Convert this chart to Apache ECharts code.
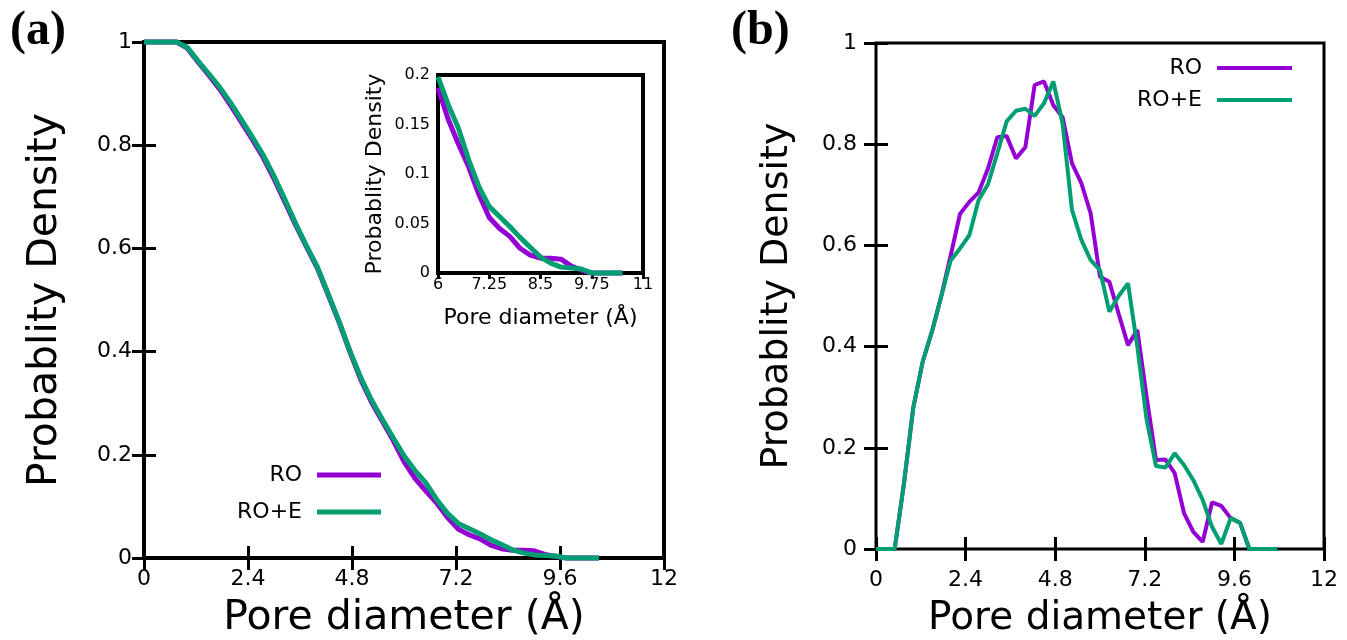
<!DOCTYPE html>
<html>
<head>
<meta charset="utf-8">
<script src="https://cdn.jsdelivr.net/npm/echarts@6/dist/echarts.min.js"></script>
<style>
html,body{margin:0;padding:0;background:#fff;}
#chart{width:1347px;height:640px;}
</style>
</head>
<body>
<div id="chart"></div>
<script>
// ---- Panel (a): cumulative-like probability density ----
var xA = [0,0.25,0.5,0.75,1,1.25,1.5,1.75,2,2.25,2.5,2.75,3,3.25,3.5,3.75,4,4.25,4.5,4.75,5,5.25,5.5,5.75,6,6.25,6.5,6.75,7,7.25,7.5,7.75,8,8.25,8.5,8.75,9,9.25,9.5,9.75,10,10.25,10.5];
var roA = [1,1,1,1,0.988,0.961,0.935,0.908,0.877,0.844,0.811,0.776,0.735,0.69,0.645,0.603,0.562,0.51,0.457,0.4,0.346,0.302,0.265,0.228,0.187,0.155,0.13,0.107,0.079,0.056,0.045,0.037,0.025,0.018,0.015,0.015,0.014,0.007,0.003,0,0,0,0];
var roeA = [1,1,1,1,0.99,0.963,0.938,0.912,0.882,0.849,0.816,0.781,0.74,0.695,0.648,0.605,0.564,0.512,0.459,0.402,0.35,0.306,0.269,0.233,0.198,0.17,0.146,0.114,0.087,0.067,0.057,0.047,0.036,0.026,0.016,0.01,0.006,0.005,0.004,0,0,0,0];

// ---- Panel (b): probability density ----
var xB = [0,0.25,0.5,0.75,1,1.25,1.5,1.75,2,2.25,2.5,2.75,3,3.25,3.5,3.75,4,4.25,4.5,4.75,5,5.25,5.5,5.75,6,6.25,6.5,6.75,7,7.25,7.5,7.75,8,8.25,8.5,8.75,9,9.25,9.5,9.75,10,10.25,10.5,10.75];
var roB = [0,0,0,0.13,0.28,0.37,0.43,0.5,0.58,0.662,0.686,0.705,0.752,0.814,0.816,0.772,0.794,0.917,0.924,0.877,0.853,0.762,0.723,0.663,0.538,0.528,0.465,0.403,0.433,0.3,0.176,0.177,0.15,0.071,0.034,0.014,0.092,0.085,0.061,0.052,0,0,0,0];
var roeB = [0,0,0,0.13,0.28,0.37,0.43,0.5,0.57,0.594,0.62,0.69,0.721,0.782,0.845,0.866,0.87,0.856,0.881,0.924,0.84,0.67,0.611,0.571,0.551,0.469,0.5,0.525,0.4,0.255,0.164,0.161,0.189,0.166,0.136,0.097,0.044,0.01,0.061,0.052,0,0,0,0];

var seriesNames = ['RO','RO+E'];
var colors = ['#9400D3','#009E73'];

function pairs(xs, ys, xmin){
  var out = [];
  for (var i=0;i<xs.length;i++){ if (xmin===undefined || xs[i] >= xmin) out.push([xs[i], ys[i]]); }
  return out;
}

var FONT = 'DejaVu Sans';
function xAx(grid, min, max, interval, opts){
  var o = {
    type:'value', gridIndex:grid, min:min, max:max, interval:interval,
    axisLine:{show:false}, splitLine:{show:false},
    axisTick:{show:true, inside:true, length:opts.tick, lineStyle:{color:'#000', width:opts.tw}},
    axisLabel:{show:!opts.top, color:'#000', fontFamily:FONT, fontSize:opts.fs, margin:opts.margin, showMinLabel:true, showMaxLabel:true},
    position: opts.top ? 'top' : 'bottom'
  };
  if (!opts.top && opts.name){
    o.name = opts.name; o.nameLocation='middle'; o.nameGap=opts.nameGap;
    o.nameTextStyle={color:'#000', fontFamily:FONT, fontSize:opts.nfs};
  }
  return o;
}
function yAx(grid, min, max, interval, opts){
  var o = {
    type:'value', gridIndex:grid, min:min, max:max, interval:interval,
    axisLine:{show:false}, splitLine:{show:false},
    axisTick:{show:true, inside:true, length:opts.tick, lineStyle:{color:'#000', width:opts.tw}},
    axisLabel:{show:!opts.right, color:'#000', fontFamily:FONT, fontSize:opts.fs, margin:opts.margin, showMinLabel:true, showMaxLabel:true},
    position: opts.right ? 'right' : 'left'
  };
  if (!opts.right && opts.name){
    o.name = opts.name; o.nameLocation='middle'; o.nameGap=opts.nameGap; o.nameRotate=90;
    o.nameTextStyle={color:'#000', fontFamily:FONT, fontSize:opts.nfs};
  }
  return o;
}

var chart = echarts.init(document.getElementById('chart'), null, {renderer:'canvas'});
var option = {
  backgroundColor:'#fff',
  animation:false,
  title:[
    {text:'(a)', left:5, top:3, textStyle:{fontFamily:'Liberation Serif', fontWeight:'bold', fontSize:48, color:'#000'}},
    {text:'(b)', left:726, top:3, textStyle:{fontFamily:'Liberation Serif', fontWeight:'bold', fontSize:48, color:'#000'}}
  ],
  grid:[
    {left:144, top:42, width:520, height:516, show:true, borderColor:'#000', borderWidth:4, backgroundColor:'transparent', containLabel:false, outerBoundsMode:'none'},
    {left:438, top:75, width:205, height:198, show:true, borderColor:'#000', borderWidth:4, backgroundColor:'#fff', containLabel:false, outerBoundsMode:'none', z:3},
    {left:876, top:43, width:448, height:506, show:true, borderColor:'#000', borderWidth:3, backgroundColor:'transparent', containLabel:false, outerBoundsMode:'none'}
  ],
  xAxis:[
    xAx(0,0,12,2.4,{tick:12,tw:3,fs:22,margin:10,name:'Pore diameter (Å)',nameGap:40,nfs:41}),
    xAx(0,0,12,2.4,{tick:12,tw:3,fs:22,top:true}),
    xAx(1,6,11,1.25,{tick:6,tw:3,fs:16,margin:4,name:'Pore diameter (Å)',nameGap:34,nfs:22}),
    xAx(1,6,11,1.25,{tick:6,tw:3,fs:16,top:true}),
    xAx(2,0,12,2.4,{tick:12,tw:3,fs:22,margin:20,name:'Pore diameter (Å)',nameGap:50,nfs:39}),
    xAx(2,0,12,2.4,{tick:12,tw:3,fs:22,top:true})
  ],
  yAxis:[
    yAx(0,0,1,0.2,{tick:12,tw:3,fs:22,margin:12,name:'Probablity Density',nameGap:78,nfs:41}),
    yAx(0,0,1,0.2,{tick:12,tw:3,fs:22,right:true}),
    yAx(1,0,0.2,0.05,{tick:6,tw:3,fs:16,margin:8,name:'Probablity Density',nameGap:52,nfs:22}),
    yAx(1,0,0.2,0.05,{tick:6,tw:3,fs:16,right:true}),
    yAx(2,0,1,0.2,{tick:12,tw:3,fs:22,margin:19,name:'Probablity Density',nameGap:80,nfs:38}),
    yAx(2,0,1,0.2,{tick:12,tw:3,fs:22,right:true})
  ],
  legend:[
    {data:['RO'], right:966, top:464, padding:0, orient:'vertical', align:'right', icon:'rect', itemWidth:64, itemHeight:5, textStyle:{fontFamily:FONT, fontSize:22, color:'#000', padding:[0,10,0,0]}, selectedMode:false},
    {data:['RO+E'], right:966, top:501, padding:0, orient:'vertical', align:'right', icon:'rect', itemWidth:64, itemHeight:5, textStyle:{fontFamily:FONT, fontSize:22, color:'#000', padding:[0,10,0,0]}, selectedMode:false},
    {data:['RO'], right:55, top:57, padding:0, orient:'vertical', align:'right', icon:'rect', itemWidth:75, itemHeight:4, textStyle:{fontFamily:FONT, fontSize:22, color:'#000', padding:[0,10,0,0]}, selectedMode:false},
    {data:['RO+E'], right:55, top:89, padding:0, orient:'vertical', align:'right', icon:'rect', itemWidth:75, itemHeight:4, textStyle:{fontFamily:FONT, fontSize:22, color:'#000', padding:[0,10,0,0]}, selectedMode:false}
  ],
  series:[
    {name:seriesNames[0], type:'line', xAxisIndex:0, yAxisIndex:0, data:pairs(xA, roA), showSymbol:false, clip:false, lineStyle:{color:colors[0], width:5}, itemStyle:{color:colors[0]}, z:2},
    {name:seriesNames[1], type:'line', xAxisIndex:0, yAxisIndex:0, data:pairs(xA, roeA), showSymbol:false, clip:false, lineStyle:{color:colors[1], width:5}, itemStyle:{color:colors[1]}, z:2},
    {name:seriesNames[0], type:'line', xAxisIndex:2, yAxisIndex:2, data:pairs(xA, roA, 6), showSymbol:false, clip:false, lineStyle:{color:colors[0], width:5}, itemStyle:{color:colors[0]}, z:4},
    {name:seriesNames[1], type:'line', xAxisIndex:2, yAxisIndex:2, data:pairs(xA, roeA, 6), showSymbol:false, clip:false, lineStyle:{color:colors[1], width:5}, itemStyle:{color:colors[1]}, z:4},
    {name:seriesNames[0], type:'line', xAxisIndex:4, yAxisIndex:4, data:pairs(xB, roB), showSymbol:false, clip:false, lineStyle:{color:colors[0], width:4}, itemStyle:{color:colors[0]}, z:2},
    {name:seriesNames[1], type:'line', xAxisIndex:4, yAxisIndex:4, data:pairs(xB, roeB), showSymbol:false, clip:false, lineStyle:{color:colors[1], width:4}, itemStyle:{color:colors[1]}, z:2}
  ]
};
chart.setOption(option);
</script>
</body>
</html>
